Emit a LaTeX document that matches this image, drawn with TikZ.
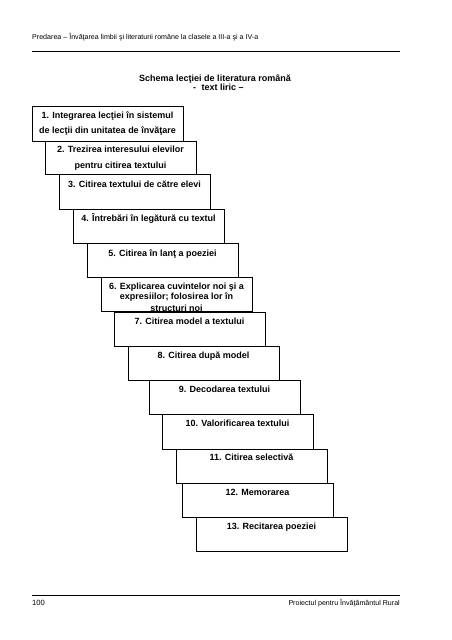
\documentclass[tikz,border=0pt]{standalone}
\usepackage{fontspec}
\setmainfont{Liberation Sans}
\begin{document}
\begin{tikzpicture}[x=1pt,y=-1pt,
  stepbox/.style={draw=black,line width=0.9pt,fill=white,anchor=north west,minimum width=151pt,inner sep=0pt,outer sep=0pt},
  lbl/.style={font=\fontsize{9}{10}\selectfont\bfseries,inner sep=0pt,anchor=base},
  small/.style={font=\fontsize{7.1}{8}\selectfont,inner sep=0pt},
  rule/.style={line width=0.9pt}]
\useasboundingbox (0,0) rectangle (452,640);
\fill[white] (0,0) rectangle (452,640);
% header
\node[small,anchor=base west] (hdr) at (32,39) {Predarea – Învăţarea limbii şi literaturii române la clasele a III-a şi a IV-a};
\coordinate (hl) at (32,51.7); \coordinate (hr) at (400,51.7);
\draw[rule] (hl) -- (hr);
% title
\node[lbl] (t1) at (215,81) {Schema lecţiei de literatura română};
\node[lbl,anchor=base west] (t2) at (193,90) {-\hspace{5.5pt}text liric –};
% boxes
\node[stepbox,minimum height=35pt] (b1) at (32,106) {};
\node[lbl] (l1a) at ([yshift=-12.3pt]b1.north) {1. Integrarea lecţiei în sistemul};
\node[lbl] (l1b) at ([yshift=-27.7pt]b1.north) {de lecţii din unitatea de învăţare};
\node[stepbox,minimum height=33pt] (b2) at (45,141) {};
\node[lbl] (l2a) at ([yshift=-11.3pt]b2.north) {2. Trezirea interesului elevilor};
\node[lbl] (l2b) at ([yshift=-27.3pt]b2.north) {pentru citirea textului};
\node[stepbox,minimum height=35pt] (b3) at (59,174) {};
\node[lbl] (l3) at ([yshift=-13pt]b3.north) {3. Citirea textului de către elevi};
\node[stepbox,minimum height=34pt] (b4) at (73,209) {};
\node[lbl] (l4) at ([yshift=-12.3pt]b4.north) {4. Întrebări în legătură cu textul};
\node[stepbox,minimum height=34pt] (b5) at (87,243) {};
\node[lbl] (l5) at ([yshift=-13pt]b5.north) {5. Citirea în lanţ a poeziei};
\node[stepbox,minimum height=34.5pt] (b6) at (101,277) {};
\begin{scope}
\clip (b6.north west) rectangle (b6.south east);
\node[lbl] (l6a) at ([yshift=-12.9pt]b6.north) {6. Explicarea cuvintelor noi şi a};
\node[lbl] (l6b) at ([yshift=-22.9pt]b6.north) {expresiilor; folosirea lor în};
\node[lbl] (l6c) at ([yshift=-34.6pt]b6.north) {structuri noi};
\end{scope}
\node[stepbox,minimum height=34pt] (b7) at (114,312) {};
\node[lbl] (l7) at ([yshift=-12.3pt]b7.north) {7. Citirea model a textului};
\node[stepbox,minimum height=34pt] (b8) at (128,346) {};
\node[lbl] (l8) at ([yshift=-12.3pt]b8.north) {8. Citirea după model};
\node[stepbox,minimum height=34pt] (b9) at (149,380) {};
\node[lbl] (l9) at ([yshift=-12.3pt]b9.north) {9. Decodarea textului};
\node[stepbox,minimum height=35pt] (b10) at (162,414) {};
\node[lbl] (l10) at ([yshift=-12.3pt]b10.north) {10. Valorificarea textului};
\node[stepbox,minimum height=34pt] (b11) at (176,449) {};
\node[lbl] (l11) at ([yshift=-11.5pt]b11.north) {11. Citirea selectivă};
\node[stepbox,minimum height=34pt] (b12) at (182,483) {};
\node[lbl] (l12) at ([yshift=-12.3pt]b12.north) {12. Memorarea};
\node[stepbox,minimum height=34pt] (b13) at (196,517) {};
\node[lbl] (l13) at ([yshift=-12.3pt]b13.north) {13. Recitarea poeziei};
% footer
\coordinate (fl) at (32,595); \coordinate (fr) at (400,595);
\draw[rule] (fl) -- (fr);
\node[small,anchor=base west,font=\fontsize{7.6}{9}\selectfont] (pg) at (32,605.5) {100};
\node[small,anchor=base east] (ft) at (400,605.5) {Proiectul pentru Învăţământul Rural};
\end{tikzpicture}
\end{document}
